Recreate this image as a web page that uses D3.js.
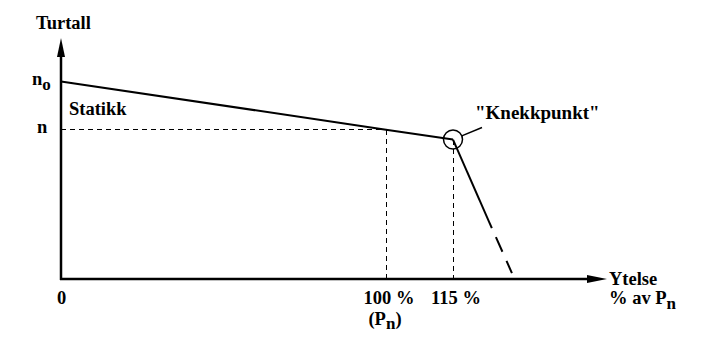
<!DOCTYPE html>
<html>
<head>
  <meta charset="utf-8">
  <script src="https://cdn.jsdelivr.net/npm/d3@7"></script>
  <style>
    body { margin: 0; background: #fff; }
    #chart { position: relative; width: 706px; height: 355px; }
    #chart svg { position: absolute; left: 0; top: 0; }
    .lbl { position: absolute; white-space: nowrap; color: #000; }
    .sub { position: relative; top: 5px; font-size: 17px; }
    .axis { stroke: #000; stroke-width: 2.5; fill: none; }
    .curve { stroke: #000; stroke-width: 2; fill: none; }
    .guide { stroke: #000; stroke-width: 1; stroke-dasharray: 5,4; fill: none; shape-rendering: crispEdges; }
  </style>
</head>
<body>
<div id="chart" style="font-weight:bold;font-family:'Liberation Serif', cursive"></div>
<script>
// Schematic values: x = ytelse (% av Pn), y = turtall (relative units, n0 = 100)
const characteristic = [
  { p: 0, n: 100 },     // n0
  { p: 100, n: 75.6 },  // n at Pn
  { p: 115, n: 70.6 }   // knekkpunkt
];
const dropSolid = [{ p: 115, n: 70.6 }, { p: 123.7, n: 25.8 }];
const dropDashed = [{ p: 123.7, n: 25.8 }, { p: 128.2, n: 3 }];
const xTicks = [0, 100, 115];
const xTickLabels = ["0", "100 %", "115 %"];
const yMarks = [{ n: 100, label: "n", sub: "o" }, { n: 75.6, label: "n", sub: "" }];
const kneeIndex = 2;

const w = 706, h = 355;

// schematic (non-uniform) x axis
const x = d3.scaleLinear().domain([0, 100, 115, 149.5]).range([61, 386, 453, 607]);
const y = d3.scaleLinear().domain([0, 122]).range([279, 38]);

const chart = d3.select("#chart");
const svg = chart.append("svg")
  .attr("width", w)
  .attr("height", h);

// text as html labels, placed by baseline (ascent ~0.8375em at line-height 1)
function label(px, baseline, size, anchor) {
  const el = chart.append("div").attr("class", "lbl")
    .style("left", px + "px")
    .style("top", (baseline - 0.8375 * size) + "px")
    .style("font-size", size + "px")
    .style("line-height", size + "px");
  if (anchor === "middle") el.style("transform", "translateX(-50%)");
  return el;
}

const line = d3.line().x(d => x(d.p)).y(d => y(d.n));

// guides: n level and vertical lines at 100 % and 115 %
svg.append("line").attr("class", "guide")
  .attr("x1", x(0)).attr("x2", x(characteristic[1].p))
  .attr("y1", y(characteristic[1].n)).attr("y2", y(characteristic[1].n));
[1, 2].forEach(i => {
  svg.append("line").attr("class", "guide")
    .attr("x1", x(characteristic[i].p)).attr("x2", x(characteristic[i].p))
    .attr("y1", y(characteristic[i].n)).attr("y2", y(0));
});

// axes with arrowheads
svg.append("line").attr("class", "axis")
  .attr("x1", x(0)).attr("x2", x(0)).attr("y1", y(0) + 1).attr("y2", y(122) + 14);
svg.append("line").attr("class", "axis")
  .attr("x1", x(0) - 1).attr("x2", x(149.5) - 14).attr("y1", y(0)).attr("y2", y(0));
svg.append("path")
  .attr("d", `M${x(0)},${y(122)} L${x(0) + 4},${y(122) + 19} L${x(0) - 4},${y(122) + 19} Z`)
  .attr("fill", "#000");
svg.append("path")
  .attr("d", `M${x(149.5)},${y(0)} L${x(149.5) - 20},${y(0) - 4} L${x(149.5) - 20},${y(0) + 4} Z`)
  .attr("fill", "#000");

// characteristic curve
svg.append("path").datum(characteristic).attr("class", "curve").attr("d", line);
svg.append("path").datum(dropSolid).attr("class", "curve").attr("d", line);
svg.append("path").datum(dropDashed).attr("class", "curve")
  .attr("stroke-dasharray", "16,10").attr("stroke-dashoffset", 16).attr("d", line);

// knekkpunkt circle + leader
const kx = x(characteristic[kneeIndex].p), ky = y(characteristic[kneeIndex].n);
const r = 9.5;
svg.append("circle").attr("cx", kx).attr("cy", ky).attr("r", r)
  .attr("fill", "none").attr("stroke", "#000").attr("stroke-width", 1.5);
const lx = kx + 29, ly = ky - 12, len = Math.hypot(29, 12);
svg.append("line")
  .attr("x1", kx + r * 29 / len).attr("y1", ky - r * 12 / len)
  .attr("x2", lx).attr("y2", ly)
  .attr("stroke", "#000").attr("stroke-width", 1.5);
label(475, 119, 19).text("\"Knekkpunkt\"");

// axis titles
label(36, 29, 18.5).text("Turtall");
label(69, 115, 18.5).text("Statikk");
label(609, 285, 18.5).text("Ytelse");
label(609, 304, 18.5).html('% av P<span class="sub">n</span>');

// y labels
yMarks.forEach(m => {
  label(m.sub ? 32 : 37, y(m.n) + 4, 18.5)
    .html(m.label + (m.sub ? '<span class="sub">' + m.sub + '</span>' : ""));
});

// x tick labels
xTicks.forEach((v, i) => {
  label(x(v) + (i === 0 ? -4 : 3), 304, 18.5, i === 0 ? "start" : "middle")
    .text(xTickLabels[i]);
});
label(x(100) - 1, 325, 18.5, "middle").html('(P<span class="sub" style="top:4px">n</span>)');
</script>
</body>
</html>
